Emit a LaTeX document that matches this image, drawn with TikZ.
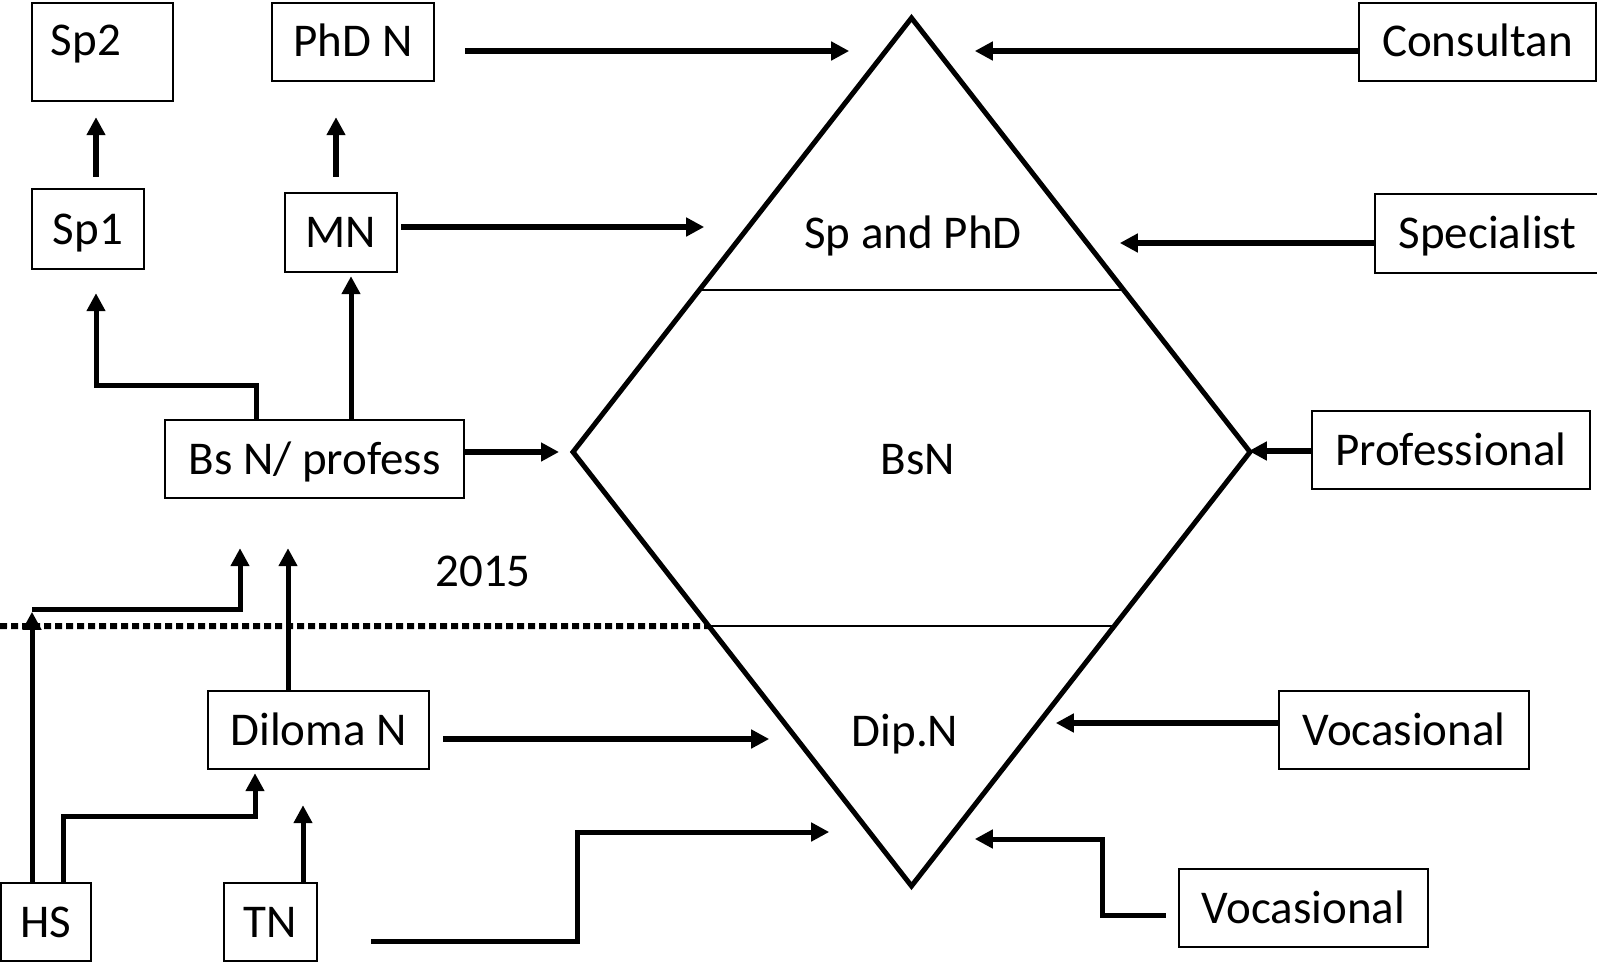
\documentclass[tikz,border=0pt]{standalone}
\usepackage{fontspec}
\setmainfont{Carlito}
\usetikzlibrary{arrows.meta,calc}
\begin{document}
\begin{tikzpicture}[x=1pt,y=-1pt,
  box/.style={draw, line width=2.4pt, inner sep=0pt, text height=30pt, text depth=0pt, font=\fontsize{47}{56}\selectfont},
  txt/.style={inner sep=0pt, text height=30pt, text depth=0pt, font=\fontsize{47}{56}\selectfont},
  arr/.style={line width=5.5pt, -{Triangle[length=18pt,width=18pt]}},
  elbow/.style={line width=5pt, -{Triangle[length=18pt,width=18pt]}},
  dia/.style={line width=5pt, line join=miter},
  thin/.style={line width=1.8pt},
  dotline/.style={line width=6pt, dash pattern=on 7pt off 4pt}
]
\useasboundingbox (0,0) rectangle (1597,963);
% boxes
\node[box, minimum width=141pt, minimum height=98pt] (sp2) at (102.5,52) {};
\node[txt] (sp2t) at (86,41) {Sp2};
\node[box, minimum width=162pt, minimum height=78pt] (phd) at (353,42) {PhD N};
\node[box, minimum width=112pt, minimum height=80pt] (sp1) at (88,229) {Sp1};
\node[box, minimum width=112pt, minimum height=79pt] (mn) at (341,232.5) {MN};
\node[box, minimum width=299pt, minimum height=78pt] (bsn) at (314.5,459) {Bs N/ profess};
\node[box, minimum width=221pt, minimum height=78pt] (dil) at (318.5,730) {Diloma N};
\node[box, minimum width=90pt, minimum height=78pt] (hs) at (46,922) {HS};
\node[box, minimum width=93pt, minimum height=78pt] (tn) at (270.5,922) {TN};
\node[box, minimum width=237pt, minimum height=78pt] (cons) at (1477.5,42) {Consultan};
\node[box, minimum width=225pt, minimum height=79pt] (spec) at (1487.5,233.5) {Specialist};
\node[box, minimum width=278pt, minimum height=78pt] (prof) at (1451,450) {Professional};
\node[box, minimum width=250pt, minimum height=78pt] (voc1) at (1404,730) {Vocasional};
\node[box, minimum width=249pt, minimum height=78pt] (voc2) at (1303.5,908) {Vocasional};
\node[txt] (year) at (483,571) {2015};
% diamond
\coordinate (dT) at (911.5,18);
\coordinate (dL) at (573,452);
\coordinate (dB) at (911.5,886);
\coordinate (dR) at (1250,452);
\draw[thin] ($(dT)!0.627!(dL)$) -- ($(dT)!0.627!(dR)$);
\draw[thin] ($(dB)!0.599!(dL)$) -- ($(dB)!0.599!(dR)$);
\draw[dia] (dT) -- (dL) -- (dB) -- (dR) -- cycle;
\draw[dotline] (0,626) -- ($(dB)!0.599!(dL)$);
\node[txt] (sppd) at (913,233) {Sp and PhD};
\node[txt] (bsnl) at (918,459) {BsN};
\node[txt] (dipn) at (905,731) {Dip.N};
% vertical arrows
\draw[arr, shorten <=11pt, shorten >=15pt] ([xshift=8pt]sp1.north) -- ([xshift=8pt]sp1.north |- sp2.south);
\draw[arr, shorten <=15pt, shorten >=35pt] ([xshift=-5pt]mn.north) -- ([xshift=-5pt]mn.north |- phd.south);
\draw[elbow, shorten >=23pt] ([xshift=-58.5pt]bsn.north) -- ++(0,-33) -| ([xshift=8pt]sp1.south);
\draw[elbow, shorten >=3pt] ([xshift=36.5pt]bsn.north) -- ([xshift=10pt]mn.south);
\draw[elbow] ([xshift=-14pt]hs.north) -- ++(0,-270);
\draw[elbow, shorten >=49pt] ([xshift=-14pt,yshift=272pt]hs.north) -| ([xshift=-74.5pt]bsn.south);
\draw[elbow, shorten >=49pt] ([xshift=-30.5pt]dil.north) -- ([xshift=-26.5pt]bsn.south);
\draw[elbow, shorten >=3pt] ([xshift=17pt]hs.north) -- ++(0,-65) -| ([xshift=-63.5pt]dil.south);
\draw[elbow, shorten >=35pt] ([xshift=32.5pt]tn.north) -- ([xshift=-15.5pt]dil.south);
\draw[elbow] ([xshift=53pt,yshift=-19pt]tn.east) -- ++(206,0) -- ++(0,-109) -- ++(252,0);
% horizontal arrows into diamond
\draw[arr] ([xshift=30pt,yshift=-9pt]phd.east) -- ++(384,0);
\draw[arr] ([xshift=3pt,yshift=5.5pt]mn.east) -- ++(303,0);
\draw[arr, shorten >=14pt] ([yshift=7pt]bsn.east) -- (dL);
\draw[arr] ([xshift=13pt,yshift=-9pt]dil.east) -- ++(326,0);
\draw[arr] ([yshift=-9pt]cons.west) -- ++(-383,0);
\draw[arr] ([yshift=-9.5pt]spec.west) -- ++(-254,0);
\draw[arr] ([yshift=-1pt]prof.west) -- ++(-62,0);
\draw[arr] ([yshift=7pt]voc1.west) -- ++(-222,0);
\draw[elbow] ([xshift=-12pt,yshift=-7pt]voc2.west) -- ++(-63,0) -- ++(0,-76) -- ++(-128,0);
\end{tikzpicture}
\end{document}
